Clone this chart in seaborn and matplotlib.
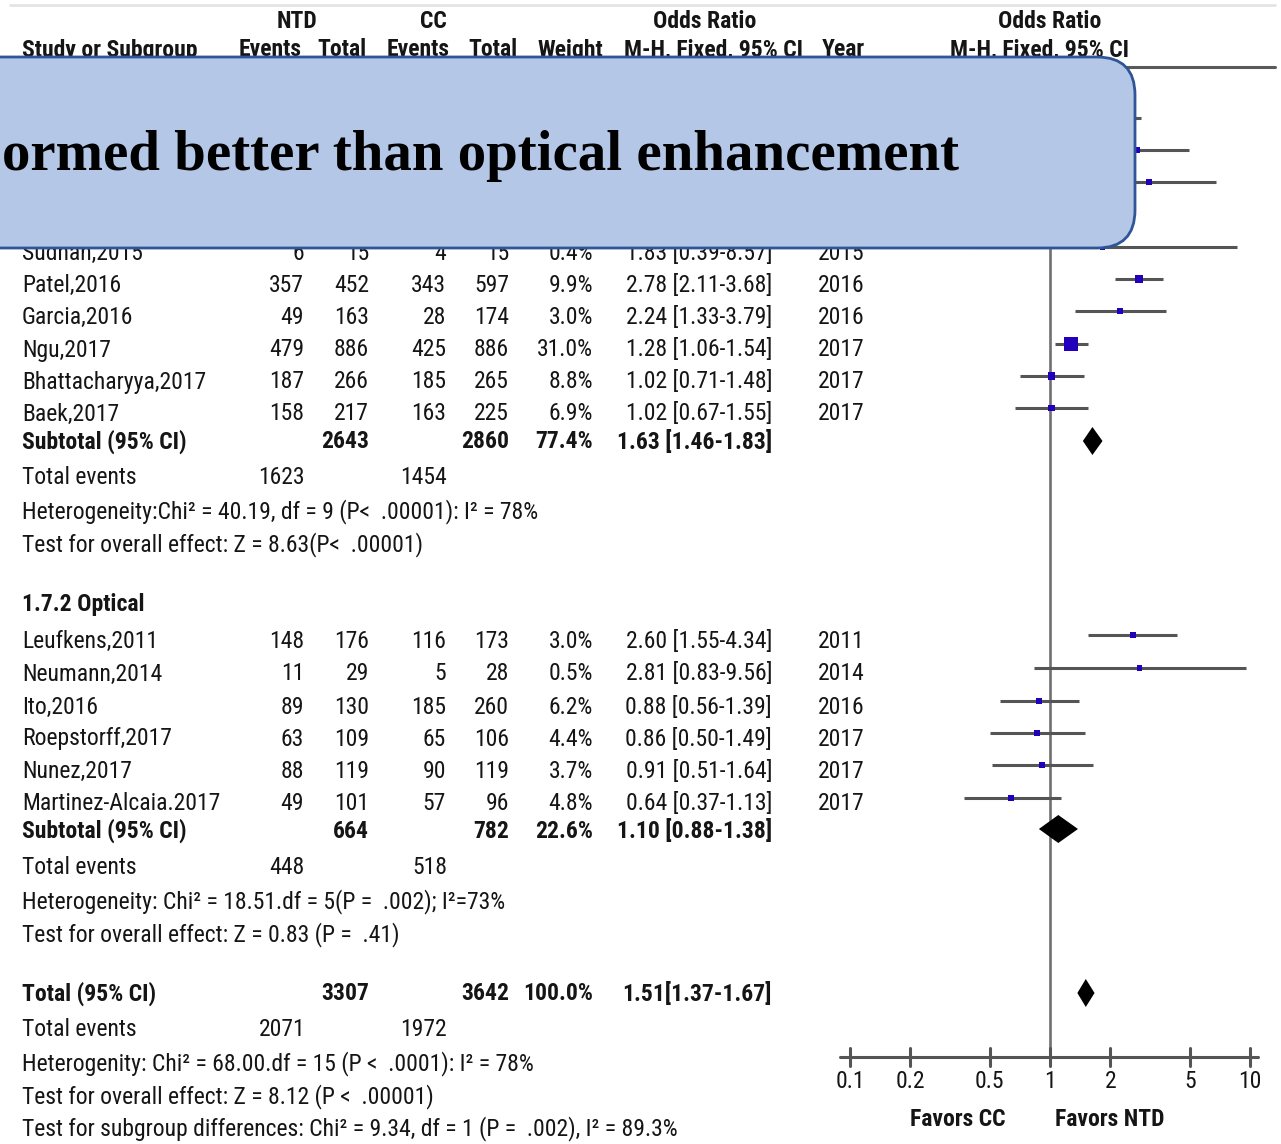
import numpy as np
import pandas as pd
import seaborn as sns
import matplotlib
matplotlib.use("Agg")
import matplotlib.pyplot as plt
from matplotlib.patches import FancyBboxPatch
from matplotlib import font_manager as fm
from matplotlib.font_manager import FontProperties
from matplotlib.textpath import TextPath

sns.set_theme(style="white")


def pick(families, default):
    for f in families:
        try:
            fm.findfont(FontProperties(family=f), fallback_to_default=False)
            return f
        except Exception:
            pass
    return default


SANS = pick(["Liberation Sans Narrow", "Roboto Condensed", "Liberation Sans"], "DejaVu Sans")
SERIF = pick(["Liberation Serif", "DejaVu Serif"], "DejaVu Serif")
plt.rcParams["font.family"] = [SANS, "DejaVu Sans"]

# ---------------- data ----------------
g1_study = ["Sudhan,2015", "Patel,2016", "Garcia,2016", "Ngu,2017", "Bhattacharyya,2017", "Baek,2017"]
g1_ntd_events = [6, 357, 49, 479, 187, 158]
g1_ntd_total = [15, 452, 163, 886, 266, 217]
g1_cc_events = [4, 343, 28, 425, 185, 163]
g1_cc_total = [15, 597, 174, 886, 265, 225]
g1_weight = [0.4, 9.9, 3.0, 31.0, 8.8, 6.9]
g1_or = [1.83, 2.78, 2.24, 1.28, 1.02, 1.02]
g1_lo = [0.39, 2.11, 1.33, 1.06, 0.71, 0.67]
g1_hi = [8.57, 3.68, 3.79, 1.54, 1.48, 1.55]
g1_year = [2015, 2016, 2016, 2017, 2017, 2017]

# rows of subgroup 1 hidden behind the callout box (estimated from visible line ends)
hid_or = [2.0, 2.72, 3.12, 1.6]
hid_lo = [1.4, 1.49, 1.45, 1.0]
hid_hi = [2.85, 4.95, 6.73, 2.5]
hid_weight = [6.5, 3.6, 2.2, 5.1]

g2_study = ["Leufkens,2011", "Neumann,2014", "Ito,2016", "Roepstorff,2017", "Nunez,2017", "Martinez-Alcaia.2017"]
g2_ntd_events = [148, 11, 89, 63, 88, 49]
g2_ntd_total = [176, 29, 130, 109, 119, 101]
g2_cc_events = [116, 5, 185, 65, 90, 57]
g2_cc_total = [173, 28, 260, 106, 119, 96]
g2_weight = [3.0, 0.5, 6.2, 4.4, 3.7, 4.8]
g2_or = [2.60, 2.81, 0.88, 0.86, 0.91, 0.64]
g2_lo = [1.55, 0.83, 0.56, 0.50, 0.51, 0.37]
g2_hi = [4.34, 9.56, 1.39, 1.49, 1.64, 1.13]
g2_year = [2011, 2014, 2016, 2017, 2017, 2017]

sub_label = ["Subtotal (95% CI)", "Subtotal (95% CI)", "Total (95% CI)"]
sub_ntd_total = [2643, 664, 3307]
sub_cc_total = [2860, 782, 3642]
sub_weight = ["77.4%", "22.6%", "100.0%"]
sub_or = [1.63, 1.10, 1.51]
sub_lo = [1.46, 0.88, 1.37]
sub_hi = [1.83, 1.38, 1.67]
sub_or_text = ["1.63 [1.46-1.83]", "1.10 [0.88-1.38]", "1.51[1.37-1.67]"]
tot_events_ntd = [1623, 448, 2071]
tot_events_cc = [1454, 518, 1972]
stats_lines = [
    ["Heterogeneity:Chi\u00b2 = 40.19, df = 9 (P<  .00001): I\u00b2 = 78%",
     "Test for overall effect: Z = 8.63(P<  .00001)"],
    ["Heterogeneity: Chi\u00b2 = 18.51.df = 5(P =  .002); I\u00b2=73%",
     "Test for overall effect: Z = 0.83 (P =  .41)"],
    ["Heterogenity: Chi\u00b2 = 68.00.df = 15 (P <  .0001): I\u00b2 = 78%",
     "Test for overall effect: Z = 8.12 (P <  .00001)",
     "Test for subgroup differences: Chi\u00b2 = 9.34, df = 1 (P =  .002), I\u00b2 = 89.3%"],
]
tick_vals = [0.1, 0.2, 0.5, 1, 2, 5, 10]
tick_labels = ["0.1", "0.2", "0.5", "1", "2", "5", "10"]
callout = "ormed better than optical enhancement"

# ---------------- layout (pixel rows) ----------------
W, H = 1281, 1144
g1_y = [253, 285, 317, 350, 382, 414]
hid_y = [118, 150, 182, 214]
g2_y = [641, 674, 707, 739, 771, 804]
sub_y = [442, 831, 994]
te_y = [478, 868, 1030]
stats_y = [[512, 545], [902, 935], [1064, 1097, 1129]]
MARK_OFF = 6
AXIS_Y = 1057

fig = plt.figure(figsize=(W / 100, H / 100), dpi=100)
fig.patch.set_facecolor("white")
ax = fig.add_axes([0, 0, 1, 1])
ax.set_xlim(0, W)
ax.set_ylim(H, 0)
ax.axis("off")

axf = fig.add_axes([850 / W, 0, 400 / W, 1])
axf.set_xscale("log")
axf.set_xlim(0.1, 10)
axf.set_ylim(H, 0)
axf.axis("off")
axf.patch.set_alpha(0)

# overlay axes for the callout box (drawn above everything)
axo = fig.add_axes([0, 0, 1, 1])
axo.set_xlim(0, W)
axo.set_ylim(H, 0)
axo.axis("off")
axo.patch.set_alpha(0)

FS = 17
TXT = "#151515"
col_name, col_ne, col_nt, col_ce, col_ct, col_w, col_or, col_year = 22, 304, 369, 446, 509, 593, 772, 818


def t(x, y, s, ha="left", bold=False, fs=FS, z=2):
    ax.text(x, y, s, ha=ha, va="center", fontsize=fs, color=TXT,
            fontweight="bold" if bold else "normal", zorder=z)


# header lines
ax.plot([10, 1275], [5, 5], color="#e4e4e4", lw=2, zorder=1)
ax.plot([22, 1275], [67, 67], color="#5a5a5a", lw=2.2, zorder=1)

t(297, 22, "NTD", "center", True)
t(433, 22, "CC", "center", True)
t(705, 22, "Odds Ratio", "center", True)
t(1050, 22, "Odds Ratio", "center", True)
t(col_name, 50, "Study or Subgroup", bold=True)
t(270, 50, "Events", "center", True)
t(342, 50, "Total", "center", True)
t(418, 50, "Events", "center", True)
t(493, 50, "Total", "center", True)
t(570, 50, "Weight", "center", True)
t(713, 50, "M-H, Fixed, 95% CI", "center", True)
t(843, 50, "Year", "center", True)
t(1040, 50, "M-H, Fixed, 95% CI", "center", True)


def study_rows(names, ne, nt, ce, ct, w, orr, lo, hi, yr, ys):
    for i, y in enumerate(ys):
        t(col_name, y, names[i])
        t(col_ne, y, str(ne[i]), "right")
        t(col_nt, y, str(nt[i]), "right")
        t(col_ce, y, str(ce[i]), "right")
        t(col_ct, y, str(ct[i]), "right")
        t(col_w, y, f"{w[i]:.1f}%", "right")
        t(col_or, y, f"{orr[i]:.2f} [{lo[i]:.2f}-{hi[i]:.2f}]", "right")
        t(col_year, y, str(yr[i]))


study_rows(g1_study, g1_ntd_events, g1_ntd_total, g1_cc_events, g1_cc_total,
           g1_weight, g1_or, g1_lo, g1_hi, g1_year, g1_y)
study_rows(g2_study, g2_ntd_events, g2_ntd_total, g2_cc_events, g2_cc_total,
           g2_weight, g2_or, g2_lo, g2_hi, g2_year, g2_y)
t(col_name, 604, "1.7.2 Optical", bold=True)

for i in range(3):
    y = sub_y[i]
    t(col_name, y, sub_label[i], bold=True)
    t(col_nt, y, str(sub_ntd_total[i]), "right", True)
    t(col_ct, y, str(sub_cc_total[i]), "right", True)
    t(col_w, y, sub_weight[i], "right", True)
    t(col_or, y, sub_or_text[i], "right", True)
    t(col_name, te_y[i], "Total events")
    t(305, te_y[i], str(tot_events_ntd[i]), "right")
    t(447, te_y[i], str(tot_events_cc[i]), "right")
    for s, yy in zip(stats_lines[i], stats_y[i]):
        t(col_name, yy, s)

# ---------------- forest ----------------
df = pd.DataFrame({
    "or": g1_or + hid_or + g2_or,
    "lo": g1_lo + hid_lo + g2_lo,
    "hi": g1_hi + hid_hi + g2_hi,
    "w": g1_weight + hid_weight + g2_weight,
    "y": [y - MARK_OFF for y in g1_y] + hid_y + [y - MARK_OFF for y in g2_y],
})
df["side_px"] = np.maximum(5.5, 2.5 * np.sqrt(df["w"]))
df["s"] = (df["side_px"] * 0.72) ** 2

GRAY = "#555555"
axf.plot([1, 1], [67, AXIS_Y], color="#707070", lw=1.9, zorder=1, clip_on=False)
axf.hlines(df["y"], df["lo"], df["hi"], color=GRAY, lw=2.2, zorder=2, clip_on=False)
sns.scatterplot(data=df, x="or", y="y", marker="s", s=df["s"].values, color="#2200bb",
                linewidth=0, ax=axf, legend=False, zorder=3, clip_on=False)

dia_y = [441, 829, 993]
for i in range(3):
    est, lo, hi, y = sub_or[i], sub_lo[i], sub_hi[i], dia_y[i]
    axf.fill([lo, est, hi, est], [y, y - 14, y, y + 14], color="black", zorder=4, lw=0)

axf.plot([0.089, 10.96], [AXIS_Y, AXIS_Y], color=GRAY, lw=2.2, clip_on=False, zorder=2)
for v, lab in zip(tick_vals, tick_labels):
    axf.plot([v, v], [AXIS_Y - 9, AXIS_Y + 9], color=GRAY, lw=2.2, clip_on=False, zorder=2)
    axf.text(v, AXIS_Y + 24, lab, ha="center", va="center", fontsize=FS, color=TXT)

t(958, 1119, "Favors CC", "center", True)
t(1110, 1119, "Favors NTD", "center", True)

# ---------------- callout box ----------------
box = FancyBboxPatch((-80, 57), 1135 + 80, 191,
                     boxstyle="round,pad=0,rounding_size=38",
                     fc="#b4c7e7", ec="#2f5597", lw=2.0, zorder=10)
axo.add_patch(box)
fp = FontProperties(family=SERIF, weight="bold", size=100)
wv = TextPath((0, 0), callout, size=100, prop=fp).get_extents().width
cfs = 953 * 72 / wv
axo.text(2, 170, callout, ha="left", va="baseline", fontsize=cfs,
         fontfamily=SERIF, fontweight="bold", color="black", zorder=11)

fig.savefig("out.png", dpi=100)
